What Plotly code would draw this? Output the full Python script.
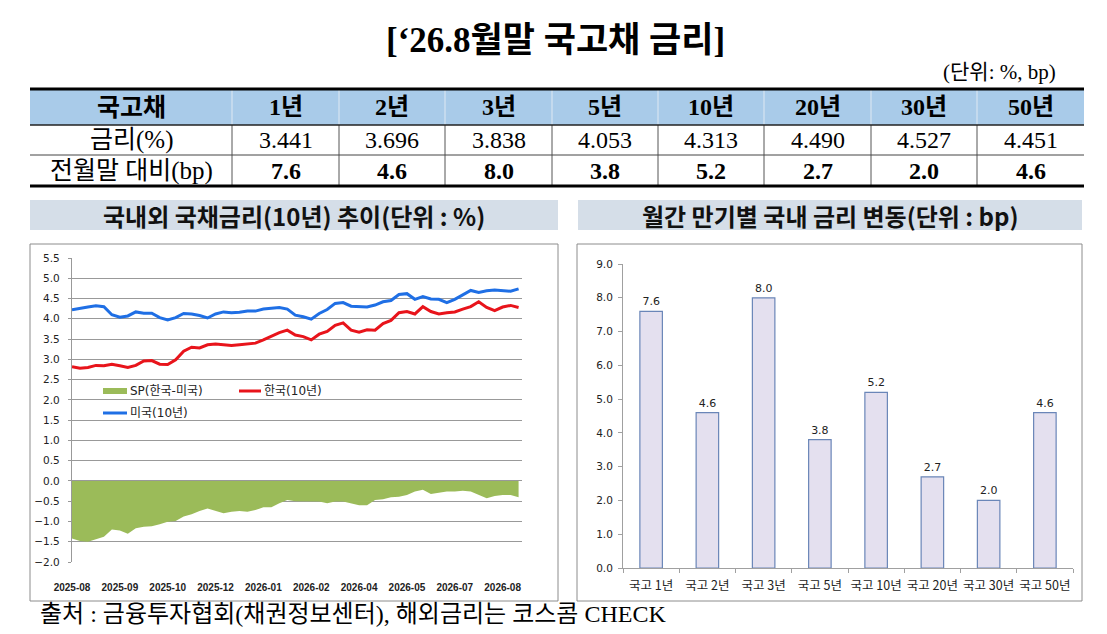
import pandas as pd
import plotly.graph_objects as go

W, H = 1107, 634

# ---- 표 데이터 ----
tenors = ["1년", "2년", "3년", "5년", "10년", "20년", "30년", "50년"]
rates = ["3.441", "3.696", "3.838", "4.053", "4.313", "4.490", "4.527", "4.451"]
chg_bp = [7.6, 4.6, 8.0, 3.8, 5.2, 2.7, 2.0, 4.6]

# ---- 국내외 국채금리(10년) 주간 추이 ----
dates = pd.date_range("2025-08-01", periods=57, freq="7D")
us_10y = [4.22, 4.26, 4.29, 4.32, 4.30, 4.10, 4.04, 4.07, 4.17, 4.14,
          4.14, 4.03, 3.97, 4.03, 4.13, 4.12, 4.08, 4.02, 4.12, 4.17,
          4.15, 4.16, 4.19, 4.19, 4.24, 4.26, 4.28, 4.24, 4.09, 4.05,
          3.99, 4.13, 4.23, 4.38, 4.40, 4.31, 4.30, 4.29, 4.34, 4.42,
          4.45, 4.60, 4.62, 4.48, 4.55, 4.49, 4.48, 4.40, 4.48, 4.58,
          4.70, 4.65, 4.69, 4.71, 4.70, 4.68, 4.74]
kr_10y = [2.82, 2.78, 2.80, 2.85, 2.84, 2.88, 2.84, 2.80, 2.85, 2.96,
          2.97, 2.88, 2.87, 2.99, 3.20, 3.30, 3.28, 3.36, 3.38, 3.36,
          3.34, 3.36, 3.38, 3.40, 3.48, 3.58, 3.66, 3.72, 3.60, 3.56,
          3.48, 3.62, 3.69, 3.84, 3.90, 3.72, 3.67, 3.73, 3.72, 3.88,
          3.96, 4.15, 4.18, 4.12, 4.30, 4.18, 4.12, 4.15, 4.17, 4.24,
          4.30, 4.42, 4.28, 4.20, 4.29, 4.33, 4.28]
spread = [-1.42, -1.48, -1.50, -1.44, -1.38, -1.20, -1.22, -1.30, -1.17, -1.13,
          -1.12, -1.07, -1.01, -0.99, -0.88, -0.82, -0.74, -0.68, -0.74, -0.80,
          -0.76, -0.74, -0.76, -0.72, -0.65, -0.65, -0.55, -0.47, -0.50, -0.50,
          -0.51, -0.51, -0.55, -0.51, -0.51, -0.55, -0.60, -0.60, -0.47, -0.45,
          -0.40, -0.39, -0.35, -0.26, -0.22, -0.32, -0.29, -0.26, -0.26, -0.24,
          -0.26, -0.35, -0.43, -0.37, -0.35, -0.35, -0.40]
tick_dates = ["2025-08-01", "2025-09-12", "2025-10-24", "2025-12-05", "2026-01-16",
              "2026-02-27", "2026-04-10", "2026-05-22", "2026-07-03", "2026-08-14"]
tick_text = ["2025-08", "2025-09", "2025-10", "2025-12", "2026-01",
             "2026-02", "2026-04", "2026-05", "2026-07", "2026-08"]

# ---- 월간 만기별 국내 금리 변동 ----
bar_cats = ["국고 1년", "국고 2년", "국고 3년", "국고 5년", "국고 10년", "국고 20년", "국고 30년", "국고 50년"]
bar_vals = [7.6, 4.6, 8.0, 3.8, 5.2, 2.7, 2.0, 4.6]


def px(x):
    return x / W


def py(y):
    return 1 - y / H


SERIF = "Liberation Serif, Noto Sans CJK KR"
KR = "Noto Sans CJK KR"
CHART = "DejaVu Sans, Noto Sans CJK KR"

fig = go.Figure()

# 왼쪽 차트
fig.add_trace(go.Scatter(x=dates, y=spread, fill="tozeroy", mode="lines",
                         line=dict(width=0, color="#9bbb59"), fillcolor="#9bbb59",
                         name="SP(한국-미국)", xaxis="x", yaxis="y"))
fig.add_trace(go.Scatter(x=dates, y=kr_10y, mode="lines",
                         line=dict(width=3, color="#e8141b"),
                         name="한국(10년)", xaxis="x", yaxis="y"))
fig.add_trace(go.Scatter(x=dates, y=us_10y, mode="lines",
                         line=dict(width=3, color="#1f6fe5"),
                         name="미국(10년)", xaxis="x", yaxis="y"))

# 오른쪽 차트
fig.add_trace(go.Bar(x=bar_cats, y=bar_vals, xaxis="x2", yaxis="y2",
                     marker=dict(color="#e4e0ef", line=dict(color="#6a86b8", width=1.2)),
                     text=[f"{v:.1f}" for v in bar_vals], textposition="outside",
                     textfont=dict(family=CHART, size=11, color="#222"),
                     cliponaxis=False))

shapes = []
annos = []

# 제목
annos.append(dict(x=px(555), y=py(40), text="<b>[‘26.8월말 국고채 금리]</b>",
                  font=dict(family=SERIF, size=35, color="#000")))
annos.append(dict(x=px(1058), y=py(72), text="(단위: %, bp)", xanchor="right",
                  font=dict(family=SERIF, size=21, color="#000")))

# 표
cols = [30, 232, 339, 445, 552, 658, 764, 871, 977, 1084]
rows = [89, 125, 155, 186]
shapes.append(dict(type="rect", x0=px(30), x1=px(1084), y0=py(89), y1=py(125),
                   fillcolor="#a9cbe9", line=dict(width=0), layer="below"))
for i, c in enumerate(cols[1:-1]):
    shapes.append(dict(type="line", x0=px(c), x1=px(c), y0=py(89), y1=py(125),
                       line=dict(color="#dfe9f3", width=1)))
    shapes.append(dict(type="line", x0=px(c), x1=px(c), y0=py(125), y1=py(186),
                       line=dict(color="#555", width=1)))
shapes.append(dict(type="line", x0=px(30), x1=px(1084), y0=py(89), y1=py(89),
                   line=dict(color="#000", width=3)))
shapes.append(dict(type="line", x0=px(30), x1=px(1084), y0=py(125), y1=py(125),
                   line=dict(color="#222", width=1.5)))
shapes.append(dict(type="line", x0=px(30), x1=px(1084), y0=py(155), y1=py(155),
                   line=dict(color="#444", width=1)))
shapes.append(dict(type="line", x0=px(30), x1=px(1084), y0=py(186), y1=py(186),
                   line=dict(color="#000", width=3)))

row_labels = ["<b>국고채</b>", "금리(%)", "전월말 대비(bp)"]
cells = [[f"<b>{t}</b>" for t in tenors], rates, [f"<b>{v:.1f}</b>" for v in chg_bp]]
for r in range(3):
    yc = (rows[r] + rows[r + 1]) / 2
    annos.append(dict(x=px((cols[0] + cols[1]) / 2), y=py(yc), text=row_labels[r],
                      font=dict(family=SERIF, size=25, color="#000")))
    for j in range(8):
        annos.append(dict(x=px((cols[j + 1] + cols[j + 2]) / 2), y=py(yc), text=cells[r][j],
                          font=dict(family=SERIF, size=24, color="#000")))

# 소제목 상자
for x0, x1, t in [(30, 558, "국내외 국채금리(10년) 추이(단위 : %)"),
                  (578, 1082, "월간 만기별 국내 금리 변동(단위 : bp)")]:
    shapes.append(dict(type="rect", x0=px(x0), x1=px(x1), y0=py(200), y1=py(230),
                       fillcolor="#d5dee8", line=dict(width=0), layer="below"))
    annos.append(dict(x=px((x0 + x1) / 2), y=py(215), text=f"<b>{t}</b>",
                      font=dict(family=KR, size=24, color="#111")))

# 차트 테두리
for x0, x1 in [(30, 558), (577, 1082)]:
    shapes.append(dict(type="rect", x0=px(x0), x1=px(x1), y0=py(244), y1=py(601),
                       line=dict(color="#8c8c8c", width=1)))

# 범례
shapes.append(dict(type="rect", x0=px(103), x1=px(127), y0=py(394), y1=py(388),
                   fillcolor="#9bbb59", line=dict(width=0)))
shapes.append(dict(type="line", x0=px(239), x1=px(261), y0=py(391), y1=py(391),
                   line=dict(color="#e8141b", width=3)))
shapes.append(dict(type="line", x0=px(103), x1=px(127), y0=py(413), y1=py(413),
                   line=dict(color="#1f6fe5", width=3)))
for x, y, t in [(128, 391, "SP(한국-미국)"), (262, 391, "한국(10년)"), (128, 413, "미국(10년)")]:
    annos.append(dict(x=px(x), y=py(y), text=t, xanchor="left",
                      font=dict(family=CHART, size=12, color="#222")))

# 출처
annos.append(dict(x=px(38), y=py(614), text="출처 : 금융투자협회(채권정보센터), 해외금리는 코스콤 CHECK",
                  xanchor="left", font=dict(family=SERIF, size=24, color="#000")))

for a in annos:
    a.update(xref="paper", yref="paper", showarrow=False)
    a.setdefault("xanchor", "center")
    a.setdefault("yanchor", "middle")
for s in shapes:
    s.update(xref="paper", yref="paper")

fig.update_layout(
    width=W, height=H,
    margin=dict(l=0, r=0, t=0, b=0, autoexpand=False),
    paper_bgcolor="white", plot_bgcolor="rgba(0,0,0,0)",
    showlegend=False,
    shapes=shapes, annotations=annos,
    xaxis=dict(domain=[px(72), px(522)], anchor="y", type="date", automargin=False,
               range=["2025-08-01", "2026-08-31"],
               tickvals=tick_dates, ticktext=[f"<b>{t}</b>" for t in tick_text],
               showgrid=False, ticks="outside", ticklen=16, tickcolor="rgba(0,0,0,0)",
               tickfont=dict(family="Liberation Sans", size=10, color="#222"),
               showline=False, zeroline=False),
    yaxis=dict(domain=[py(562), py(258)], anchor="x", range=[-2.0, 5.5], dtick=0.5,
               automargin=False, ticklabelstandoff=6,
               tickformat=".1f", showgrid=True, gridcolor="#999999", gridwidth=1.3,
               zeroline=True, zerolinecolor="#999999", zerolinewidth=1.3,
               showline=True, linecolor="#999999", linewidth=1.3,
               ticks="outside", ticklen=3, tickcolor="#999999",
               tickfont=dict(family=CHART, size=10.5, color="#222")),
    xaxis2=dict(domain=[px(623), px(1073)], anchor="y2", type="category", automargin=False,
                showline=True, linecolor="#a0a0a0", ticks="outside", ticklen=4,
                tickcolor="#a0a0a0", tickson="boundaries", showgrid=False,
                tickangle=0, ticklabelstandoff=6,
                tickfont=dict(family=KR, size=12.5, color="#222")),
    yaxis2=dict(domain=[py(568), py(264)], anchor="x2", range=[0, 9], dtick=1,
                automargin=False, ticklabelstandoff=3,
                tickformat=".1f", showgrid=False, zeroline=False,
                showline=True, linecolor="#a0a0a0", ticks="outside", ticklen=4,
                tickcolor="#a0a0a0",
                tickfont=dict(family=CHART, size=10.5, color="#222")),
    bargap=0.6,
)

fig.write_html("out.html", config={"displayModeBar": False},
               post_script="document.body.style.margin='0';")
